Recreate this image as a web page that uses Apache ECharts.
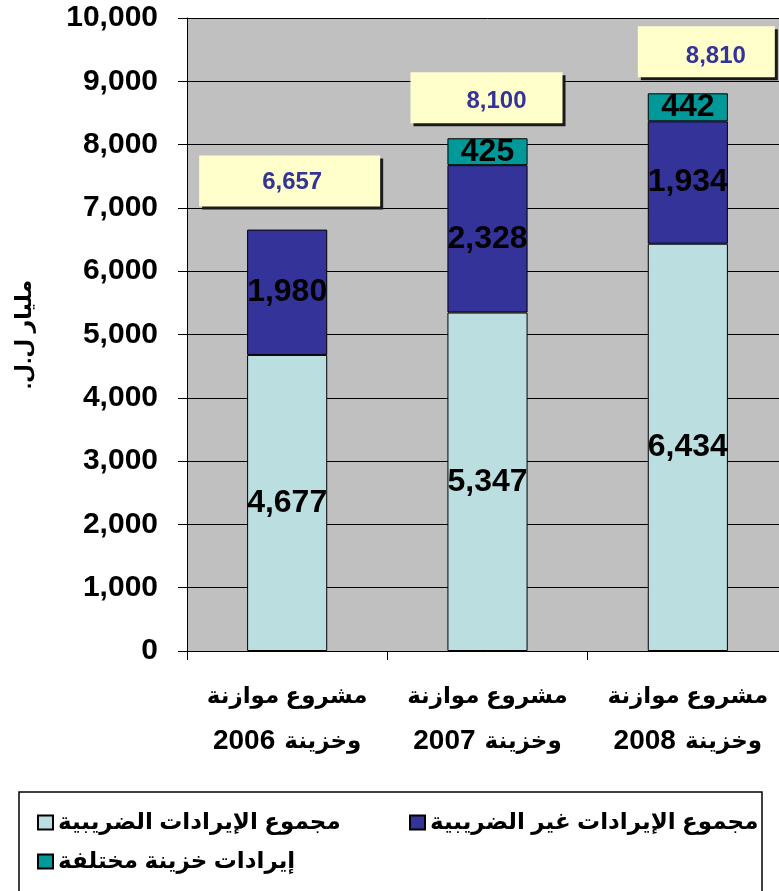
<!DOCTYPE html>
<html>
<head>
<meta charset="utf-8">
<script src="https://cdn.jsdelivr.net/npm/echarts@6/dist/echarts.min.js"></script>
<style>
html,body{margin:0;padding:0;background:#fff;overflow:hidden;width:779px;height:891px;}
#chart{width:800px;height:891px;}
</style>
</head>
<body>
<div id="chart" dir="rtl"></div>
<script>
// ---- data ----
const categories = ['مشروع موازنة\nوخزينة 2006', 'مشروع موازنة\nوخزينة 2007', 'مشروع موازنة\nوخزينة 2008'];
const taxRevenue = [4677, 5347, 6434];
const nonTaxRevenue = [1980, 2328, 1934];
const miscTreasuryRevenue = ['-', 425, 442];
const totals = [6657, 8100, 8810];
const yTicks = { min: 0, max: 10000, interval: 1000 };
const seriesNames = ['مجموع الإيرادات الضريبية', 'مجموع الإيرادات غير الضريبية', 'إيرادات خزينة مختلفة'];
const yAxisName = 'مليار ل.ل.';

// ---- styling (offsets of total boxes relative to bar top, px) ----
const totalBoxStyle = [
  { x0: -88, x1: 93, y0: -74, y1: -23, tx: 5, ty: -47 },
  { x0: -77, x1: 75, y0: -66, y1: -15, tx: 9, ty: -37 },
  { x0: -50, x1: 87, y0: -67, y1: -16, tx: 28, ty: -37 }
];
const FONT = '"Liberation Sans", Arial, "DejaVu Sans", sans-serif';
const fmt = v => Number(v).toLocaleString('en-US');

const chart = echarts.init(document.getElementById('chart'), null, { renderer: 'canvas' });

const barLabel = {
  show: true, position: 'inside', color: '#000', fontSize: 32, fontWeight: 'bold',
  fontFamily: FONT, formatter: p => fmt(p.value)
};

// build rich x-axis label: Arabic words + larger year digits (year drawn at the left)
function xLabel(v) {
  const lines = v.split('\n');
  return lines.map(line => {
    const m = line.match(/^(.*?)\s*(\d+)$/);
    if (m) return '{n|' + m[2] + '}{a|' + m[1] + '}';
    return '{a|' + line + '}';
  }).join('\n');
}

const option = {
  animation: false,
  textStyle: { fontFamily: FONT },
  grid: { left: 187, top: 18, width: 601, bottom: 240, show: true, backgroundColor: '#C0C0C0', borderWidth: 0 },
  xAxis: {
    type: 'category', data: categories,
    axisLine: { lineStyle: { color: '#000', width: 1 } },
    axisTick: { show: true, length: 9, lineStyle: { color: '#000' } },
    axisLabel: {
      color: '#000', fontWeight: 'bold', fontFamily: FONT, margin: 23, interval: 0,
      formatter: xLabel,
      rich: {
        a: { fontSize: 23, fontWeight: 'bold', fontFamily: FONT, color: '#000', lineHeight: 45 },
        n: { fontSize: 28, fontWeight: 'bold', fontFamily: FONT, color: '#000', lineHeight: 45, padding: [0, 9, 0, 0] }
      }
    }
  },
  yAxis: {
    type: 'value', min: yTicks.min, max: yTicks.max, interval: yTicks.interval,
    name: yAxisName, nameLocation: 'middle', nameGap: 151,
    nameTextStyle: { color: '#000', fontSize: 22, fontWeight: 'bold', fontFamily: FONT },
    axisLine: { show: true, lineStyle: { color: '#000', width: 1 } },
    axisTick: { show: true, length: 9, lineStyle: { color: '#000' } },
    axisLabel: { color: '#000', fontSize: 30, fontWeight: 'bold', fontFamily: FONT, margin: 29, formatter: v => fmt(v) },
    splitLine: { show: true, lineStyle: { color: '#000', width: 1 } }
  },
  legend: [
    { data: [seriesNames[0]], left: 32, top: 806 },
    { data: [seriesNames[1]], left: 404, top: 806 },
    { data: [seriesNames[2]], left: 32, top: 845 }
  ].map(l => Object.assign(l, {
    icon: 'rect', itemWidth: 15, itemHeight: 14, itemGap: 10,
    textStyle: { color: '#000', fontSize: 23, fontWeight: 'bold', fontFamily: FONT }
  })),
  graphic: [
    { type: 'rect', shape: { x: 19, y: 792, width: 743, height: 120 },
      style: { fill: 'none', stroke: '#000', lineWidth: 1.5 }, silent: true }
  ],
  series: [
    { name: seriesNames[0], type: 'bar', stack: 'total', barWidth: '40%', data: taxRevenue,
      itemStyle: { color: '#BBDEE0', borderColor: '#000', borderWidth: 1 }, label: barLabel },
    { name: seriesNames[1], type: 'bar', stack: 'total', data: nonTaxRevenue,
      itemStyle: { color: '#333399', borderColor: '#000', borderWidth: 1 }, label: barLabel },
    { name: seriesNames[2], type: 'bar', stack: 'total', data: miscTreasuryRevenue,
      itemStyle: { color: '#009999', borderColor: '#000', borderWidth: 1 }, label: barLabel },
    { type: 'custom', name: 'totals', coordinateSystem: 'cartesian2d', z: 10, clip: false,
      data: totals.map((v, i) => [i, v]),
      renderItem: (params, api) => {
        const i = params.dataIndex;
        const pt = api.coord([api.value(0), api.value(1)]);
        const b = totalBoxStyle[i];
        const w = b.x1 - b.x0, h = b.y1 - b.y0;
        return {
          type: 'group',
          children: [
            { type: 'rect', shape: { x: pt[0] + b.x0 + 3, y: pt[1] + b.y0 + 3, width: w, height: h },
              style: { fill: '#1a1a1a' } },
            { type: 'rect', shape: { x: pt[0] + b.x0, y: pt[1] + b.y0, width: w, height: h },
              style: { fill: '#FFFFCC' } },
            { type: 'text', x: pt[0] + b.tx, y: pt[1] + b.ty,
              style: { text: fmt(api.value(1)), fill: '#333399', font: 'bold 24px ' + FONT,
                       textAlign: 'center', textVerticalAlign: 'middle' } }
          ]
        };
      }
    }
  ]
};
chart.setOption(option);
</script>
</body>
</html>
